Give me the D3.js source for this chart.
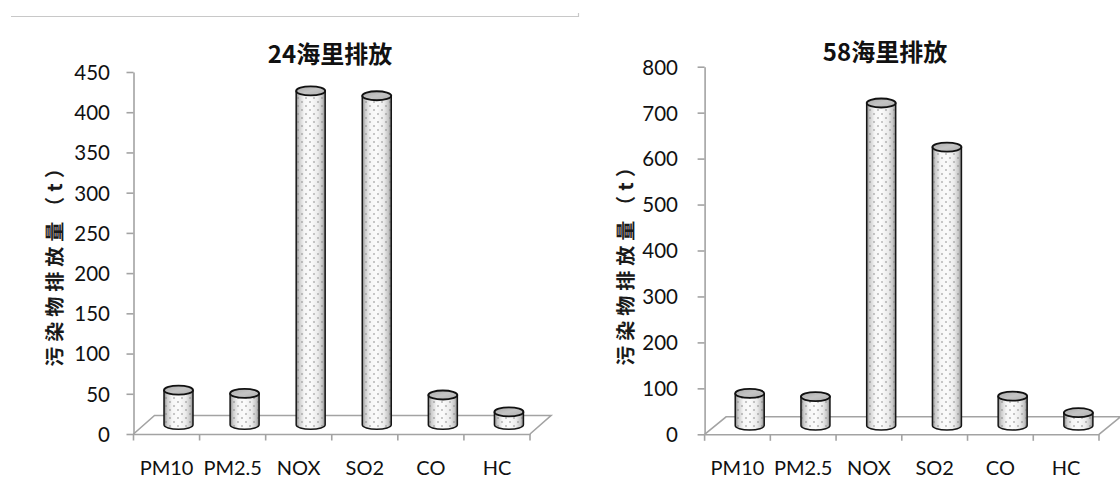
<!DOCTYPE html>
<html>
<head>
<meta charset="utf-8">
<script src="https://cdn.jsdelivr.net/npm/d3@7"></script>
<style>
  html, body { margin: 0; padding: 0; background: #fff; }
  svg { display: block; }
  .tick-label { font-family: Lato, "Open Sans", sans-serif; font-size: 20.5px; fill: #111; }
  .cat-label { font-family: Lato, "Open Sans", sans-serif; font-size: 20px; fill: #111; }
  .title { font-family: "Noto Sans CJK SC", sans-serif; font-weight: 700; font-size: 24px; fill: #111; }
  .ytitle { font-family: "Noto Sans CJK SC", serif; font-weight: 700; font-size: 20px; fill: #1a1a1a;
            letter-spacing: 5px; text-rendering: geometricPrecision; }
</style>
</head>
<body>
<svg id="chart" width="1120" height="492"></svg>
<script>
// Pollutant categories shared by both panels
const categories = ["PM10", "PM2.5", "NOX", "SO2", "CO", "HC"];

// Emissions (t) within 24 nautical miles
const emissions24 = [43, 39, 415, 409, 37, 16];
// Emissions (t) within 58 nautical miles
const emissions58 = [70, 63, 702, 606, 64, 28];

// Value-axis tick labels of each panel
const ticks24 = [0, 50, 100, 150, 200, 250, 300, 350, 400, 450];
const ticks58 = [0, 100, 200, 300, 400, 500, 600, 700, 800];

const panelTitles = ["24海里排放", "58海里排放"];
const valueAxisTitle = "污染物排放量（t）";

const svg = d3.select("#chart");
const defs = svg.append("defs");

// Horizontal shading of the cylinder bodies
const bodyGrad = defs.append("linearGradient").attr("id", "bodyGrad")
  .attr("x1", "0%").attr("x2", "100%").attr("y1", "0%").attr("y2", "0%");
[["0%", "#858585"], ["10%", "#cbcbcb"], ["28%", "#f6f6f6"], ["50%", "#fbfbfb"],
 ["75%", "#ebebeb"], ["90%", "#c6c6c6"], ["100%", "#858585"]]
  .forEach(([o, c]) => bodyGrad.append("stop").attr("offset", o).attr("stop-color", c));

// Shading of the cylinder tops
const topGrad = defs.append("linearGradient").attr("id", "topGrad")
  .attr("x1", "0%").attr("x2", "100%").attr("y1", "0%").attr("y2", "100%");
[["0%", "#a9a9a9"], ["50%", "#c4c4c4"], ["100%", "#b0b0b0"]]
  .forEach(([o, c]) => topGrad.append("stop").attr("offset", o).attr("stop-color", c));

// Fine dotted texture on the bodies
const dots = defs.append("pattern").attr("id", "dots")
  .attr("patternUnits", "userSpaceOnUse").attr("width", 8).attr("height", 8);
dots.append("circle").attr("cx", 2).attr("cy", 2).attr("r", 0.75).attr("fill", "#7a7a7a");
dots.append("circle").attr("cx", 6).attr("cy", 6).attr("r", 0.75).attr("fill", "#7a7a7a");

// Thin rule across the top of the page
svg.append("path")
  .attr("d", "M11,16.5H578.5V13")
  .attr("fill", "none").attr("stroke", "#c8c8c8").attr("stroke-width", 1.2);

const panels = [
  { values: emissions24, ticks: ticks24, title: panelTitles[0],
    x0: 133.5, x1: 530, yZero: 434, yTop: 72, depthX: 21, depthY: -18.5,
    titleX: 330, titleY: 63, yTitleX: 55, yTitleY: 260, labelEnd: 110 },
  { values: emissions58, ticks: ticks58, title: panelTitles[1],
    x0: 704.6, x1: 1099, yZero: 434.3, yTop: 66.7, depthX: 21.5, depthY: -17.5,
    titleX: 885, titleY: 61, yTitleX: 626, yTitleY: 259, labelEnd: 678 }
];

const axisColor = "#a3a3a3";

panels.forEach(p => {
  const g = svg.append("g");
  const yMax = p.ticks[p.ticks.length - 1];
  const y = d3.scaleLinear().domain([0, yMax]).range([p.yZero, p.yTop]);
  const x = d3.scaleBand().domain(categories).range([p.x0, p.x1]).padding(0);

  // Floor of the 3D plot area
  g.append("path")
    .attr("d", `M${p.x0},${y(0)}L${p.x0 + p.depthX},${y(0) + p.depthY}` +
               `H${p.x1 + p.depthX}L${p.x1},${y(0)}`)
    .attr("fill", "none").attr("stroke", axisColor).attr("stroke-width", 1.6);

  // Value axis
  const yAxis = d3.axisLeft(y).tickValues(p.ticks).tickSize(7)
    .tickPadding(p.x0 - 7 - p.labelEnd).tickSizeOuter(0);
  const ya = g.append("g").attr("transform", `translate(${p.x0},0)`).call(yAxis);
  ya.select(".domain").attr("stroke", axisColor).attr("stroke-width", 1.6);
  ya.selectAll(".tick line").attr("stroke", axisColor).attr("stroke-width", 1.6);
  ya.selectAll(".tick text").attr("class", "tick-label").attr("font-size", null)
    .attr("font-family", null).attr("fill", null).attr("dy", "0.36em");

  // Category axis
  const xAxis = d3.axisBottom(x).tickSize(0).tickPadding(0).tickSizeOuter(0);
  const xa = g.append("g").attr("transform", `translate(0,${y(0)})`).call(xAxis);
  xa.select(".domain").attr("stroke", axisColor).attr("stroke-width", 1.6);
  xa.selectAll(".tick text").attr("class", "cat-label").attr("font-size", null)
    .attr("font-family", null).attr("fill", null).attr("y", 40.5).attr("dy", 0);
  // tick marks on the category boundaries
  const edges = categories.map(c => x(c)).concat([p.x1]);
  xa.selectAll(".edge").data(edges).join("line").attr("class", "edge")
    .attr("x1", d => d).attr("x2", d => d).attr("y1", 0).attr("y2", 6.5)
    .attr("stroke", axisColor).attr("stroke-width", 1.6);

  // Cylinders, standing at mid depth of the floor
  const rx = 14.5, ry = 4.5;
  const cyl = g.selectAll(".cyl").data(categories.map((c, i) => ({ c, v: p.values[i] })))
    .join("g").attr("class", "cyl");
  const cx = d => x(d.c) + x.bandwidth() / 2 + p.depthX * 0.57;
  const yb = () => y(0) + p.depthY / 2;
  const yt = d => y(d.v) + p.depthY / 2;
  const bodyPath = d =>
    `M${cx(d) - rx},${yt(d)}L${cx(d) - rx},${yb()}` +
    `A${rx},${ry} 0 0 0 ${cx(d) + rx},${yb()}L${cx(d) + rx},${yt(d)}Z`;

  cyl.append("path").attr("d", bodyPath).attr("fill", "url(#bodyGrad)");
  cyl.append("path").attr("d", bodyPath).attr("fill", "url(#dots)")
    .attr("stroke", "#151515").attr("stroke-width", 1.5).attr("stroke-linejoin", "round");
  cyl.append("ellipse")
    .attr("cx", cx).attr("cy", yt).attr("rx", rx).attr("ry", ry)
    .attr("fill", "url(#topGrad)").attr("stroke", "#111").attr("stroke-width", 1.8);

  // Panel title
  g.append("text").attr("class", "title")
    .attr("x", p.titleX).attr("y", p.titleY).attr("text-anchor", "middle")
    .text(p.title);

  // Value-axis title
  g.append("text").attr("class", "ytitle")
    .attr("transform", `translate(${p.yTitleX},${p.yTitleY}) rotate(-90)`)
    .attr("text-anchor", "middle").attr("dy", "0.36em")
    .text(valueAxisTitle);
});
</script>
</body>
</html>
